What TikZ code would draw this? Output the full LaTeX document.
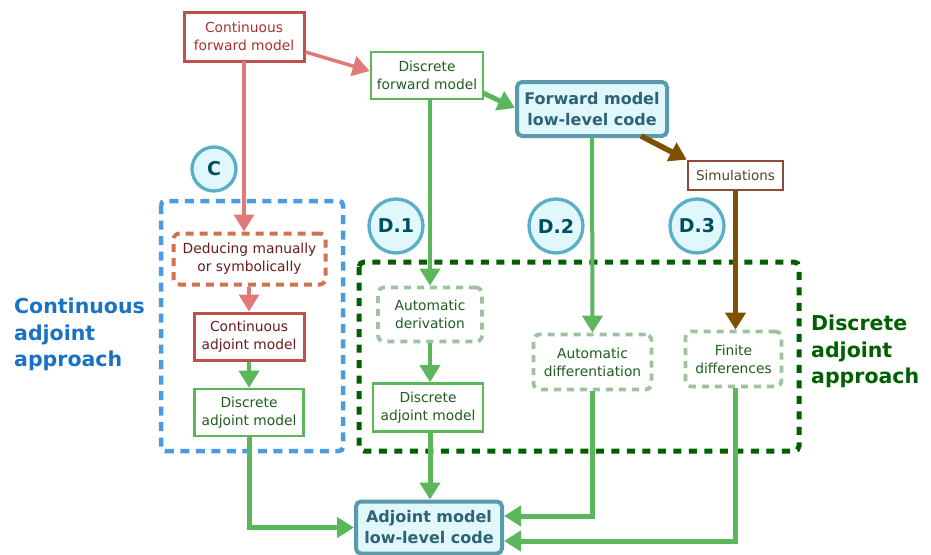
\documentclass[tikz,border=0pt]{standalone}
\usepackage{fontspec}
\setmainfont{DejaVu Sans}
\usetikzlibrary{arrows.meta}
\definecolor{cred}{HTML}{C0504D}
\definecolor{cpink}{HTML}{E07A78}
\definecolor{credtxt}{HTML}{A83232}
\definecolor{cdred}{HTML}{6E1A1A}
\definecolor{cgreen}{HTML}{5CB65C}
\definecolor{cgtxt}{HTML}{1E5E1E}
\definecolor{clgreen}{HTML}{9DC29D}
\definecolor{cdgreen}{HTML}{006000}
\definecolor{cblue}{HTML}{4A9BE2}
\definecolor{cbluetxt}{HTML}{1A72C4}
\definecolor{cteal}{HTML}{5A9AAC}
\definecolor{ctealtxt}{HTML}{2E6274}
\definecolor{cfill}{HTML}{E0F7FC}
\definecolor{ccirc}{HTML}{5AAEC6}
\definecolor{cctxt}{HTML}{004E60}
\definecolor{cbrown}{HTML}{7F5000}
\definecolor{cbrbox}{HTML}{8B4A3A}
\definecolor{cbrtxt}{HTML}{5A4028}
\definecolor{corange}{HTML}{D0724E}
\tikzset{
  txt/.style={font=\fontsize{13.8}{18}\selectfont, align=center, inner sep=0pt},
  redbox/.style={txt, draw=cred, line width=3pt, fill=white},
  greenbox/.style={txt, draw=cgreen, line width=2.6pt, fill=white, text=cgtxt},
  lgdash/.style={txt, draw=clgreen, line width=3.8pt, dash pattern=on 7pt off 6pt, rounded corners=6pt, fill=white, text=cgtxt},
  codebox/.style={draw=cteal, line width=4pt, fill=cfill, rounded corners=5pt, text=ctealtxt, align=center, inner sep=0pt, font=\fontsize{16}{21}\selectfont\bfseries},
  circ/.style={circle, draw=ccirc, line width=3.3pt, fill=cfill, text=cctxt, font=\fontsize{19}{21}\selectfont\bfseries, inner sep=0pt},
  approach/.style={font=\fontsize{20.5}{26.5}\selectfont\bfseries, align=left, inner sep=0pt, anchor=north west},
  tip/.style={-{Triangle[length=17pt,width=20pt]}},
  pinkarr/.style={tip, draw=cpink, line width=3.5pt},
  garr/.style={tip, draw=cgreen, line width=3.5pt},
  gthick/.style={tip, draw=cgreen, line width=5pt},
  brarr/.style={tip, draw=cbrown, line width=5.5pt},
}
\begin{document}
\begin{tikzpicture}[x=1pt,y=-1pt]
\useasboundingbox (0,0) rectangle (931,554);
% group boxes
\draw[cblue, line width=4.5pt, dash pattern=on 9pt off 6.5pt, rounded corners=4pt] (161,201) rectangle (343,451);
\draw[cdgreen, line width=5pt, dash pattern=on 8pt off 7.5pt, rounded corners=5pt] (359,262) rectangle (799,451);
% nodes
\node[redbox, text=credtxt, minimum width=120pt, minimum height=49pt] (cfm) at (244,36.5) {Continuous\\forward model};
\node[greenbox, minimum width=112pt, minimum height=47pt] (dfm) at (427,75.5) {Discrete\\forward model};
\node[codebox, minimum width=150pt, minimum height=54pt] (fwl) at (592,109) {Forward model\\low-level code};
\node[txt, draw=cbrbox, line width=2.6pt, fill=white, text=cbrtxt, font=\fontsize{13.5}{15}\selectfont, minimum width=95pt, minimum height=29pt] (sim) at (735.5,175.5) {Simulations};
\node[circ, minimum size=44pt] (C) at (214,169) {C};
\node[circ, minimum size=54pt] (D1) at (396,226) {D.1};
\node[circ, minimum size=54pt] (D2) at (556,226) {D.2};
\node[circ, minimum size=54pt] (D3) at (697,226) {D.3};
\node[txt, draw=corange, line width=4pt, dash pattern=on 8pt off 6pt, rounded corners=6pt, fill=white, text=cdred, minimum width=152pt, minimum height=51pt] (ded) at (249.5,259) {Deducing manually\\or symbolically};
\node[redbox, text=cdred, minimum width=110pt, minimum height=47pt] (cam) at (249,336.5) {Continuous\\adjoint model};
\node[greenbox, minimum width=109pt, minimum height=47pt] (dam1) at (249,412.5) {Discrete\\adjoint model};
\node[lgdash, minimum width=104pt, minimum height=54pt] (ader) at (430,314.5) {Automatic\\derivation};
\node[greenbox, minimum width=110pt, minimum height=48pt] (dam2) at (428,407.5) {Discrete\\adjoint model};
\node[lgdash, minimum width=118pt, minimum height=55pt] (adiff) at (592.5,362) {Automatic\\differentiation};
\node[lgdash, minimum width=96pt, minimum height=55pt] (fd) at (733.5,359) {Finite\\differences};
\node[codebox, minimum width=146pt, minimum height=52pt] (adl) at (429,527.5) {Adjoint model\\low-level code};
\node[approach, text=cbluetxt] (cap) at (14,298) {Continuous\\adjoint\\approach};
\node[approach, text=cdgreen] (dap) at (811,315) {Discrete\\adjoint\\approach};
% coordinates
\coordinate (k1) at (249,527.5);
\coordinate (k2) at (592.5,516);
\coordinate (k3) at (735,541);
\coordinate (fs) at (641,136);
\coordinate (dfs) at (483,93);
% connectors
\draw[pinkarr] (cfm.east |- 0,52) -- (dfm.west |- 0,71);
\draw[pinkarr] (244,61) -- (ded.north -| 244,0);
\draw[pinkarr] (ded.south -| 249,0) -- (cam.north -| 249,0);
\draw[garr] (cam.south) -- (dam1.north);
\draw[gthick] (dam1.south) -- (k1) -- (adl.west);
\draw[gthick] (dfs) -- (fwl.west |- 0,108);
\draw[garr] (dfm.south -| 430,0) -- (ader.north);
\draw[garr] (ader.south) -- (dam2.north -| 430,0);
\draw[gthick] (dam2.south -| 430,0) -- (adl.north -| 430,0);
\draw[garr, line width=4pt] (fwl.south) -- (adiff.north);
\draw[brarr] (fs) -- (sim.north west);
\draw[brarr] (sim.south) -- (fd.north -| sim.south);
\draw[gthick] (adiff.south) -- (k2) -- (adl.east |- k2);
\draw[gthick] (fd.south -| k3) -- (k3) -- (adl.east |- k3);
\end{tikzpicture}
\end{document}
